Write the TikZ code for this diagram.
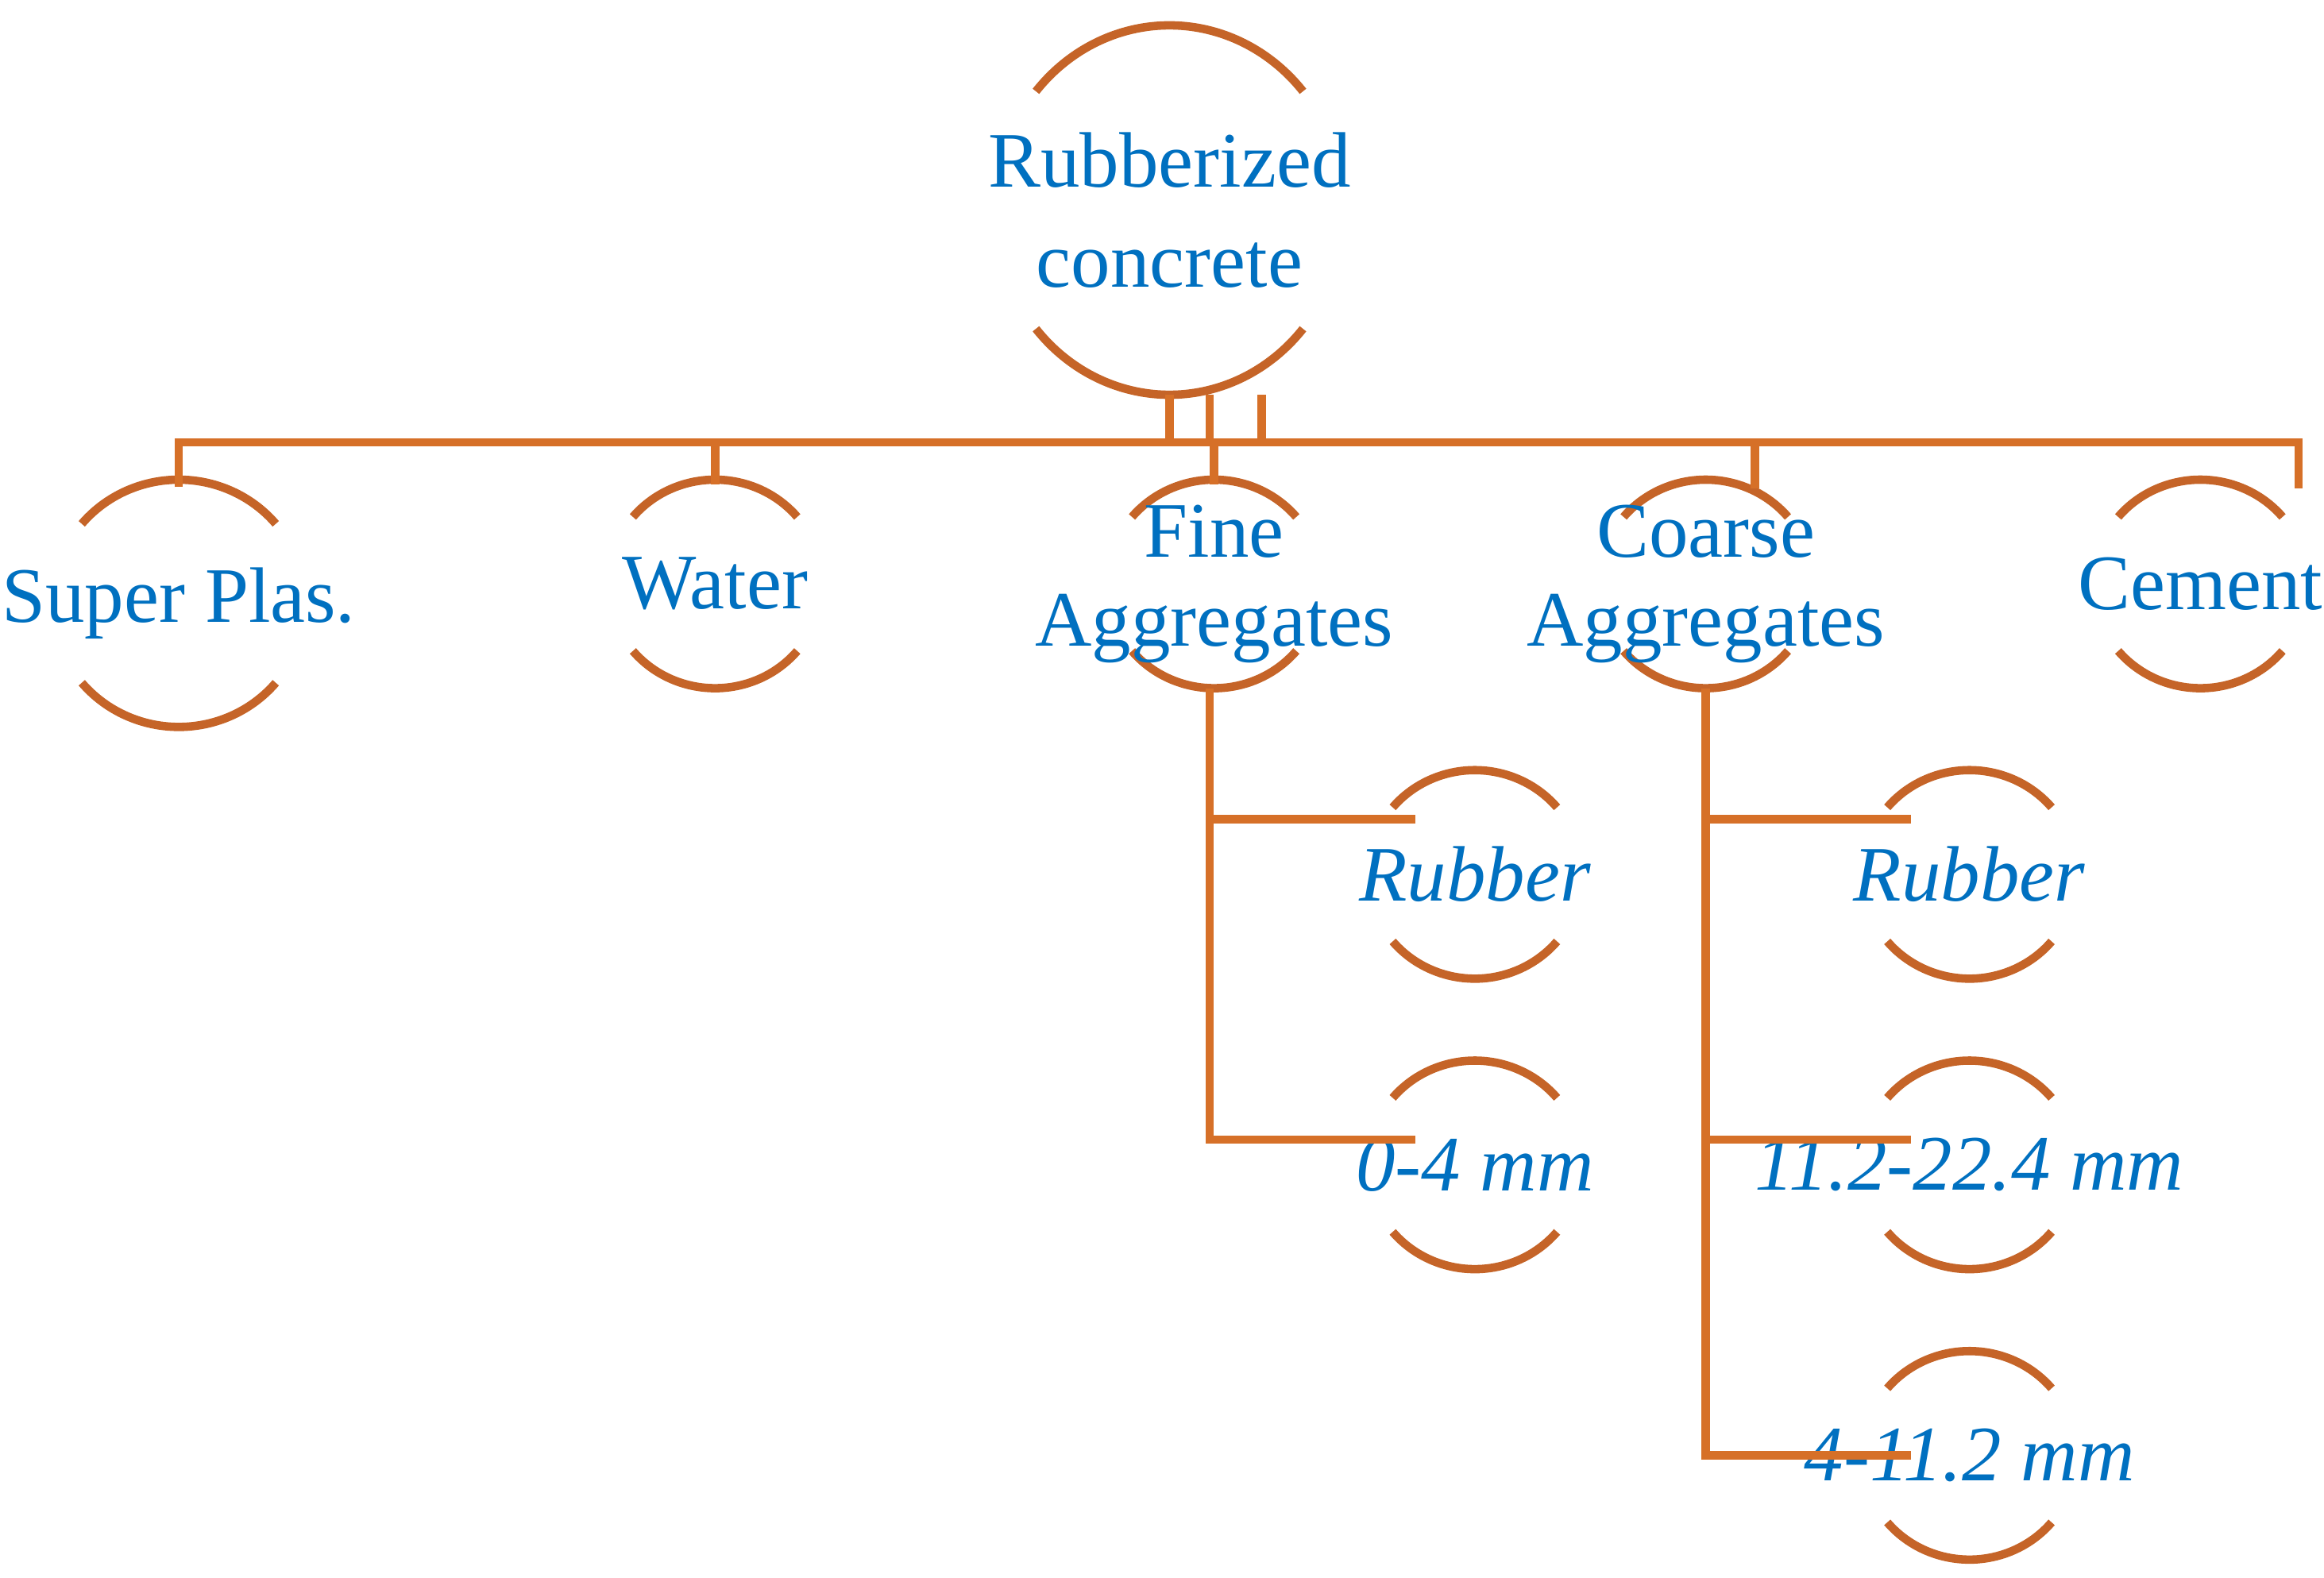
\documentclass[tikz,border=0pt]{standalone}
\usepackage{fontspec}
\setmainfont{Liberation Serif}
\definecolor{ring}{RGB}{197,100,40}
\definecolor{link}{RGB}{214,112,40}
\definecolor{txt}{RGB}{0,112,192}
\begin{document}
\begin{tikzpicture}[x=0.01cm,y=-0.01cm,
  ring/.style={draw=ring,line width=1.6pt},
  link/.style={draw=link,line width=1.6pt},
  lbl/.style={text=txt,font=\fontsize{15}{17}\selectfont,align=center,inner sep=0pt},
  sub/.style={lbl,font=\fontsize{15}{17}\selectfont\itshape}]
\useasboundingbox (0,0) rectangle (1560,1059);
% rings drawn as top and bottom arcs
\newcommand\ringat[4]{% x, y, rx, ry
  \draw[ring] ([shift={(#1,#2)}]140:{#3} and {#4}) arc[start angle=140,end angle=40,x radius=#3,y radius=#4];
  \draw[ring] ([shift={(#1,#2)}]220:{#3} and {#4}) arc[start angle=220,end angle=320,x radius=#3,y radius=#4]}
\ringat{785}{141}{117}{124};
\ringat{120}{405}{85}{83};
\ringat{480}{392}{72}{70};
\ringat{815}{392}{72}{70};
\ringat{1145}{392}{72}{70};
\ringat{1477}{392}{72}{70};
\ringat{990}{587}{72}{70};
\ringat{990}{782}{72}{70};
\ringat{1322}{587}{72}{70};
\ringat{1322}{782}{72}{70};
\ringat{1322}{977}{72}{70};
% labels
\node[lbl] (root) at (785,141) {Rubberized\\[2pt]concrete};
\node[lbl] (sp) at (120,405) {Super Plas.};
\node[lbl] (w) at (480,392) {Water};
\node[lbl] (fa) at (815,392) {Fine\\Aggregates};
\node[lbl] (ca) at (1145,392) {Coarse\\Aggregates};
\node[lbl] (ce) at (1477,392) {Cement};
\node[sub] (fr) at (990,587) {Rubber};
\node[sub] (f04) at (990,782) {0-4 mm};
\node[sub] (cr) at (1322,587) {Rubber};
\node[sub] (c11) at (1322,782) {11.2-22.4 mm};
\node[sub] (c4) at (1322,977) {4-11.2 mm};
% connectors
\coordinate (b0) at (120,297); \coordinate (b1) at (1543,297);
\draw[link] (120,327) -- (b0) -- (b1) -- (1543,328);
\draw[link] (480,297) -- (480,325);
\draw[link] (815,297) -- (815,325);
\draw[link] (1178,297) -- (1178,328);
\foreach \x in {785,812,847} \draw[link] (\x,265) -- (\x,297);
\draw[link] (812,462) -- (812,765) -- (950,765);
\draw[link] (812,550) -- (950,550);
\draw[link] (1145,462) -- (1145,977) -- (1283,977);
\draw[link] (1145,550) -- (1283,550);
\draw[link] (1145,765) -- (1283,765);
\end{tikzpicture}
\end{document}
